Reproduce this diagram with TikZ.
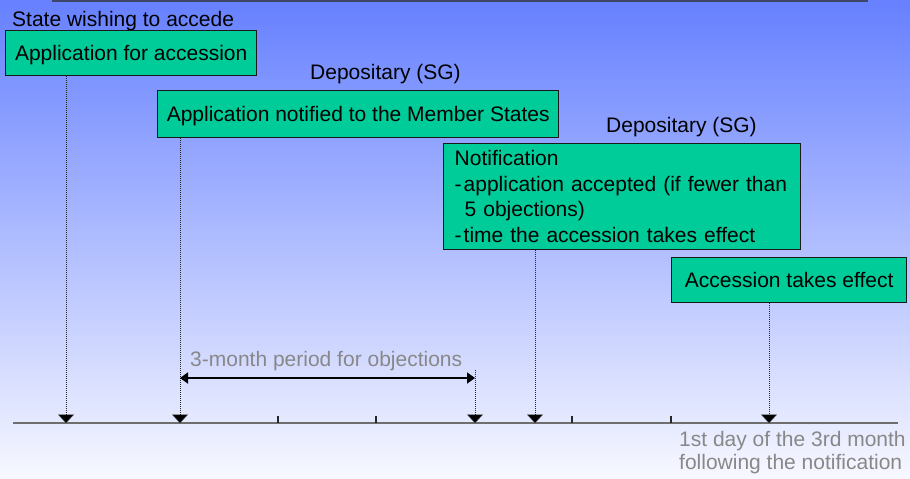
\documentclass[tikz,border=0pt]{standalone}
\usepackage{fontspec}
\setmainfont{Liberation Sans}
\usetikzlibrary{arrows.meta}
\definecolor{boxgreen}{HTML}{00CC99}
\definecolor{bgtop}{HTML}{6680FF}
\definecolor{bgbot}{HTML}{F7F8FF}
\definecolor{txtgray}{HTML}{888888}
\definecolor{axisgray}{HTML}{6E6E6E}
\definecolor{topline}{HTML}{3E4668}
\begin{document}
\begin{tikzpicture}[x=1pt,y={(0pt,-1pt)},
  font=\fontsize{21}{25.5}\selectfont,
  stepbox/.style={draw=black!90, line width=1.4pt, fill=boxgreen, anchor=north west,
     inner sep=0pt, text height=17pt, text depth=2pt},
  lbl/.style={inner sep=0pt, anchor=base west},
  graylbl/.style={lbl, text=txtgray},
  dotarrow/.style={draw=black!85, line width=0.9pt, dash pattern=on 1pt off 1pt,
     -{Triangle[width=16pt,length=8.5pt,fill=black,line width=0.5pt]}},
  period/.style={line width=1.8pt, {Triangle[width=11pt,length=8pt]}-{Triangle[width=11pt,length=8pt]}},
  tick/.style={line width=1.4pt, draw=black!85}
]
\useasboundingbox (0,0) rectangle (910,479);
\shade[top color=bgtop, bottom color=bgbot] (0,0) rectangle (910,479);
\draw[line width=1.5pt, color=topline] (52,0.8) -- (868,0.8);

% labels
\node[lbl] (lstate) at (12,26) {State wishing to accede};
\node[lbl] (ldep1) at (310,79) {Depositary (SG)};
\node[lbl] (ldep2) at (606,132) {Depositary (SG)};

% boxes
\node[stepbox, minimum width=251pt, minimum height=45pt] (b1) at (5,30) {Application for accession};
\node[stepbox, minimum width=401pt, minimum height=47pt] (b2) at (157,90) {Application notified to the Member States};
\node[stepbox, minimum height=106pt, text width=335pt, inner xsep=11pt, align=left,
      text height=, text depth=] (b3) at (443,143)
  {Notification\\-\kern2pt application accepted (if fewer than\\\hspace*{10pt}5 objections)\\-\kern2pt time the accession takes effect};
\node[stepbox, minimum width=235pt, minimum height=45pt] (b4) at (671,257) {Accession takes effect};

% axis
\coordinate (axl) at (13,423);
\coordinate (axr) at (898,423);
\draw[axisgray, line width=1.2pt] (axl) -- (axr);
\coordinate (ax1) at (66,423);
\coordinate (ax2) at (180,423);
\coordinate (ax3) at (475,423);
\coordinate (ax4) at (535,423);
\coordinate (ax5) at (769,423);
\foreach \t/\x in {t1/278, t2/376, t3/572, t4/671} {
  \coordinate (\t) at (\x,423);
  \draw[tick] (\t) -- ++(0,-7);
}

% dotted arrows
\draw[dotarrow] (b1.south -| ax1) -- (ax1);
\draw[dotarrow] (b2.south -| ax2) -- (ax2);
\draw[dotarrow] (b3.south -| ax4) -- (ax4);
\draw[dotarrow] (b4.south -| ax5) -- (ax5);
\coordinate (ptop) at (475,370);
\draw[dotarrow] (ptop) -- (ax3);

% period arrow
\coordinate (p1) at (180,378);
\coordinate (p2) at (475,378);
\draw[period] (p1) -- (p2);
\node[graylbl] (lper) at (190,366) {3-month period for objections};

% bottom right note
\node[graylbl, anchor=north west, align=left, font=\fontsize{21}{23.5}\selectfont] (lnote) at (679,431)
  {1st day of the 3rd month\\following the notification};
\end{tikzpicture}
\end{document}
